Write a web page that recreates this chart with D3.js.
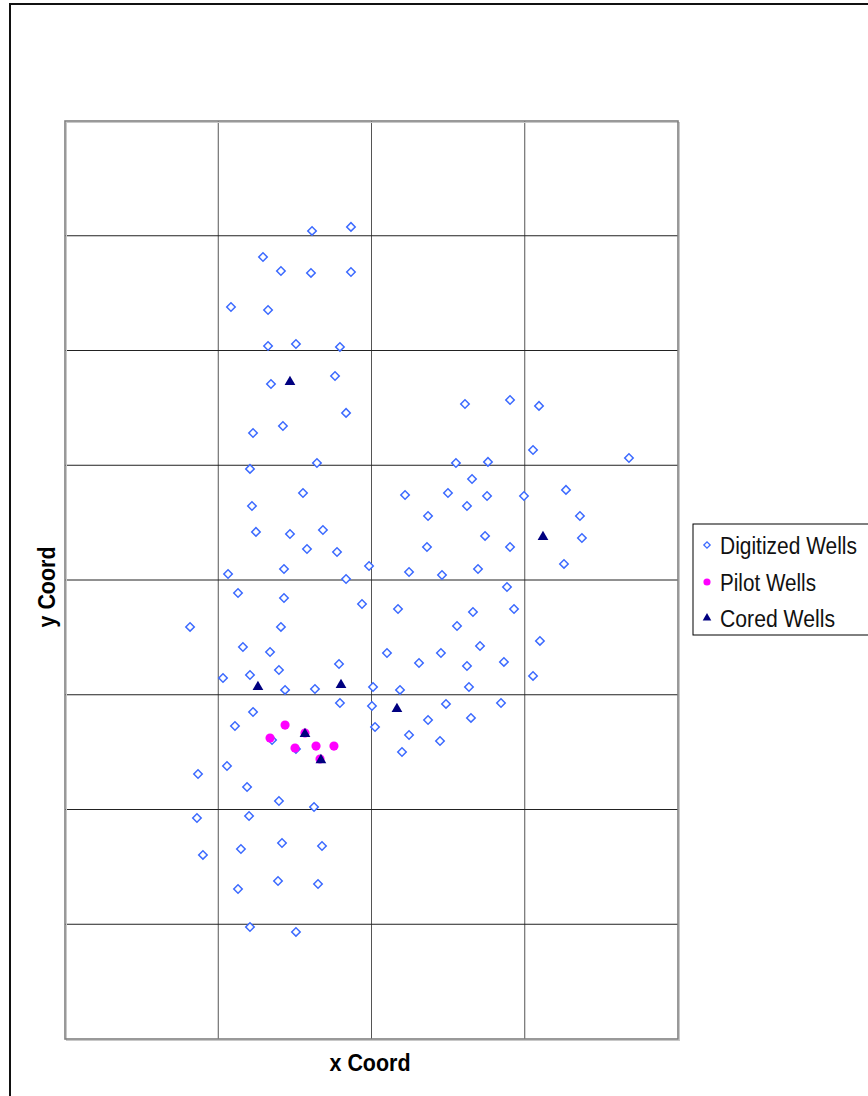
<!DOCTYPE html>
<html>
<head>
<meta charset="utf-8">
<script src="https://cdn.jsdelivr.net/npm/d3@7"></script>
<style>
  body { margin: 0; background: #fff; }
  svg { display: block; font-family: "Liberation Sans", Arial, sans-serif; }
</style>
</head>
<body>
<div id="container"></div>
<script>
// well locations (arbitrary coordinate units, grid every 1000)
var digitizedX = [1612,1866,1292,1409,1605,1866,1083,1325,1325,1507,1794,1344,1762,1834,1422,1227,1207,1644,1553,1220,
  1246,1468,1683,1579,1775,1429,1984,1064,1834,1129,1429,1938,816,1409,1161,1338,2101,1788,1396,1031,
  1207,1436,1631,2010,1794,2003,1227,1109,2023,1351,1507,1057,868,1188,1396,1625,861,1201,1416,1677,
  900,1148,1390,1651,1129,1207,1507,2610,2904,3093,3054,3680,2551,2760,2656,2219,2499,2754,2995,3269,
  2623,2369,3360,2741,3373,2362,2904,3256,2245,2460,2695,2884,2173,2662,2930,2558,3099,2708,2453,2310,
  2623,2864,3054,2186,2636,2486,2845,2369,2649,2245,2447,2199]
var digitizedY = [7042,7077,6815,6693,6676,6684,6379,6353,6039,6057,6031,5708,5778,5456,5342,5281,4968,5020,4758,4645,
  4419,4401,4436,4270,4244,4096,4122,4052,4009,3887,3843,3791,3591,3591,3416,3373,3364,3268,3216,3146,
  3172,3042,3050,3068,2928,2902,2850,2728,2719,2606,2527,2379,2309,2196,2074,2022,1926,1943,1708,1682,
  1604,1656,1377,1351,1307,976,933,5534,5569,5517,5133,5063,5020,5029,4880,4741,4758,4732,4732,4785,
  4645,4558,4558,4384,4366,4288,4288,4140,4070,4044,4096,3939,3747,3721,3747,3599,3469,3425,3364,3277,
  3251,3286,3164,3042,3068,2920,2928,2780,2798,2649,2597,2501]

var pilotX = [1436,1566,1338,1501,1638,1755,1664]
var pilotY = [2736,2667,2623,2536,2553,2553,2440]

var coredX = [1468,1259,1801,2166,1566,1670,3119]
var coredY = [5726,3068,3085,2876,2658,2431,4375]

var seriesNames = ["Digitized Wells","Pilot Wells","Cored Wells"]
var xTicks = [0,1000,2000,3000,4000]
var yTicks = [0,1000,2000,3000,4000,5000,6000,7000,8000]

var width = 868, height = 1096
var svg = d3.select("#container").append("svg").attr("width",width).attr("height",height)

// outer chart frame (runs off the right and bottom edge)
svg.append("rect").attr("x",10).attr("y",4).attr("width",900).attr("height",1150)
  .attr("fill","none").attr("stroke","#111").attr("stroke-width",2)

var xScale = d3.scaleLinear().domain([0,4000]).range([65,678])
var yScale = d3.scaleLinear().domain([0,8000]).range([1039,121])

// grid
svg.selectAll(".vgrid").data(xTicks.slice(1,-1)).enter().append("line")
  .attr("x1",function(d){return xScale(d)}).attr("x2",function(d){return xScale(d)})
  .attr("y1",yScale(8000)).attr("y2",yScale(0))
  .attr("stroke","#555").attr("stroke-width",1)
svg.selectAll(".hgrid").data(yTicks.slice(1,-1)).enter().append("line")
  .attr("y1",function(d){return yScale(d)}).attr("y2",function(d){return yScale(d)})
  .attr("x1",xScale(0)).attr("x2",xScale(4000))
  .attr("stroke","#222").attr("stroke-width",1)

// plot border with light shadow
svg.append("rect").attr("x",xScale(0)+1.5).attr("y",yScale(8000)+1.5)
  .attr("width",xScale(4000)-xScale(0)).attr("height",yScale(0)-yScale(8000))
  .attr("fill","none").attr("stroke","#c8c8c8").attr("stroke-width",1)
svg.append("rect").attr("x",xScale(0)).attr("y",yScale(8000))
  .attr("width",xScale(4000)-xScale(0)).attr("height",yScale(0)-yScale(8000))
  .attr("fill","none").attr("stroke","#808080").attr("stroke-width",1.6)

var diamond = d3.symbol().type(d3.symbolSquare).size(36)
var dot = d3.symbol().type(d3.symbolCircle).size(66)
var tri = d3.symbol().type(d3.symbolTriangle).size(50)

svg.selectAll(".digitized").data(d3.range(digitizedX.length)).enter().append("path")
  .attr("class","digitized")
  .attr("d",diamond)
  .attr("transform",function(i){return "translate("+xScale(digitizedX[i])+","+yScale(digitizedY[i])+") rotate(45)"})
  .attr("fill","#fff").attr("stroke","#3d6bff").attr("stroke-width",1.5)

svg.selectAll(".pilot").data(d3.range(pilotX.length)).enter().append("path")
  .attr("class","pilot")
  .attr("d",dot)
  .attr("transform",function(i){return "translate("+xScale(pilotX[i])+","+yScale(pilotY[i])+")"})
  .attr("fill","#ff00ff")

svg.selectAll(".cored").data(d3.range(coredX.length)).enter().append("path")
  .attr("class","cored")
  .attr("d",tri)
  .attr("transform",function(i){return "translate("+xScale(coredX[i])+","+yScale(coredY[i])+")"})
  .attr("fill","#000080")

// axis titles
svg.append("text").attr("x",370).attr("y",1071).attr("text-anchor","middle")
  .attr("font-size",24).attr("font-weight","bold")
  .attr("textLength",81).attr("lengthAdjust","spacingAndGlyphs")
  .text("x Coord")
svg.append("text").attr("transform","translate(55,587) rotate(-90)").attr("text-anchor","middle")
  .attr("font-size",24).attr("font-weight","bold")
  .attr("textLength",81).attr("lengthAdjust","spacingAndGlyphs")
  .text("y Coord")

// legend
var legend = svg.append("g")
legend.append("rect").attr("x",693).attr("y",524).attr("width",200).attr("height",111)
  .attr("fill","#fff").attr("stroke","#000").attr("stroke-width",1)
var legY = [545,582,618]
var legW = [137,96,115]
var legSym = [d3.symbol().type(d3.symbolSquare).size(20), d3.symbol().type(d3.symbolCircle).size(40), d3.symbol().type(d3.symbolTriangle).size(32)]
seriesNames.forEach(function(name,i){
  var m = legend.append("path").attr("d",legSym[i])
    .attr("transform","translate(707,"+legY[i]+")"+(i==0?" rotate(45)":""))
  if(i==0){ m.attr("fill","#fff").attr("stroke","#3d6bff").attr("stroke-width",1.3) }
  else { m.attr("fill", i==1 ? "#ff00ff" : "#000080") }
  legend.append("text").attr("x",720).attr("y",legY[i]+9)
    .attr("font-size",23).attr("fill","#111")
    .attr("textLength",legW[i]).attr("lengthAdjust","spacingAndGlyphs")
    .text(name)
})
</script>
</body>
</html>
